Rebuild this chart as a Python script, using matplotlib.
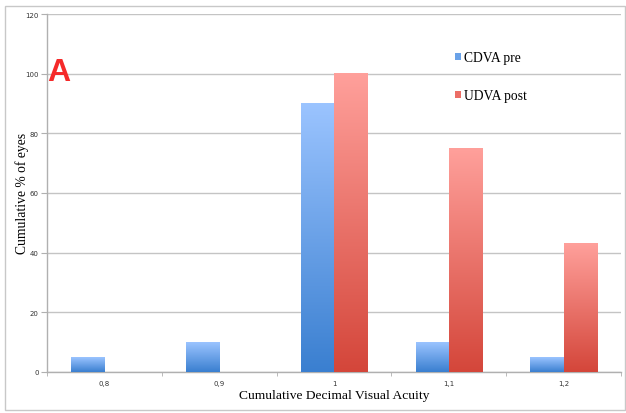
import numpy as np
import matplotlib
matplotlib.use("Agg")
import matplotlib.pyplot as plt
from matplotlib.patches import Patch, Rectangle
from matplotlib.colors import LinearSegmentedColormap

categories = ["0,8", "0,9", "1", "1,1", "1,2"]
cdva_pre = [5, 10, 90, 10, 5]
udva_post = [0, 0, 100, 75, 43]
series_names = ["CDVA pre", "UDVA post"]
y_ticks = [0, 20, 40, 60, 80, 100, 120]

blue_cmap = LinearSegmentedColormap.from_list("b", ["#3a7fd0", "#9bc4ff"])
red_cmap = LinearSegmentedColormap.from_list("r", ["#d4463a", "#ffa09b"])

fig = plt.figure(figsize=(6.26, 4.14), dpi=100)
fig.patch.set_facecolor("white")
# outer frame
fig.add_artist(Rectangle((5/626, 3/414), 620/626, 404/414, transform=fig.transFigure,
                         fill=False, edgecolor="#c8c8c8", linewidth=1.0))

ax = fig.add_axes([47/626, 41/414, 574/626, 358/414])
x = np.arange(len(categories))
w = 0.29

grad = np.linspace(0, 1, 256).reshape(-1, 1)
for xi, v in zip(x, cdva_pre):
    if v > 0:
        ax.imshow(grad, cmap=blue_cmap, origin="lower", aspect="auto",
                  extent=(xi - w, xi, 0, v), zorder=3, interpolation="bilinear")
for xi, v in zip(x, udva_post):
    if v > 0:
        ax.imshow(grad, cmap=red_cmap, origin="lower", aspect="auto",
                  extent=(xi, xi + w, 0, v), zorder=3, interpolation="bilinear")

ax.set_xlim(-0.5, len(categories) - 0.5)
ax.set_ylim(0, 120)
ax.set_yticks(y_ticks)
ax.set_yticklabels([str(t) for t in y_ticks], fontsize=5, color="#333333",
                   family="DejaVu Sans")
ax.set_xticks(x)
ax.set_xticklabels(categories, fontsize=5, color="#333333", family="DejaVu Sans")
ax.set_xticks(np.arange(-0.5, len(categories), 1.0), minor=True)
ax.tick_params(axis="x", which="major", length=0, pad=6)
ax.tick_params(axis="x", which="minor", length=3, color="#b0b0b0", direction="out")
ax.tick_params(axis="y", length=4, color="#b0b0b0", pad=2)
ax.grid(axis="y", color="#c4c4c4", linewidth=1.0, zorder=0)
ax.set_axisbelow(True)
for s in ["top", "right"]:
    ax.spines[s].set_visible(False)
for s in ["left", "bottom"]:
    ax.spines[s].set_color("#b0b0b0")
    ax.spines[s].set_linewidth(1.0)

fig.text(22/626, (414-193)/414, "Cumulative % of eyes", family="Liberation Serif",
         fontsize=9.8, rotation=90, ha="center", va="center")
ax.set_xlabel("Cumulative Decimal Visual Acuity", family="Liberation Serif", fontsize=9.7,
              labelpad=2)

handles = [Patch(facecolor="#6aa2e8", edgecolor="none"),
           Patch(facecolor="#ec6e66", edgecolor="none")]
ax.legend(handles, series_names, loc="upper left", bbox_to_anchor=(0.69, 0.931),
          frameon=False, prop={"family": "Liberation Serif", "size": 9.8},
          handlelength=0.4, handleheight=0.4, handletextpad=0.25, labelspacing=1.85)

fig.text(47/626, (414-81)/414, "A", color="#f52a2a", fontsize=23, fontweight="bold",
         family="Liberation Sans", ha="left", va="baseline")

fig.savefig("out.png", dpi=100)
